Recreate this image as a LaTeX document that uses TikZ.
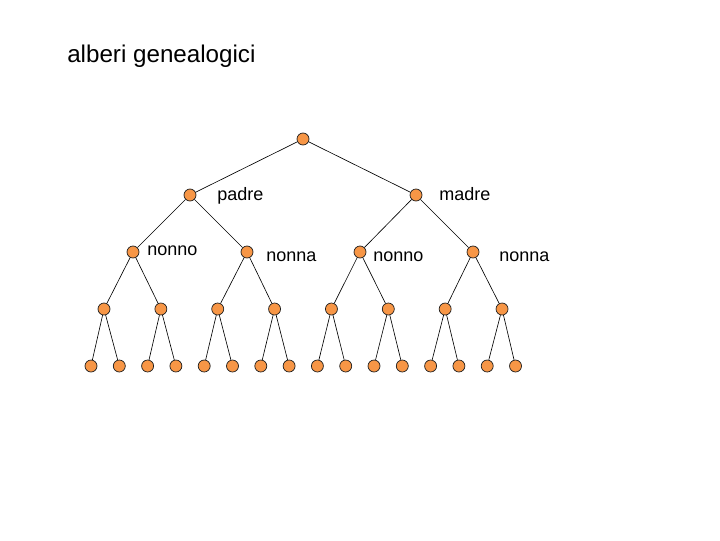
\documentclass[tikz,border=0pt]{standalone}
\usepackage{fontspec}
\setmainfont{Liberation Sans}
\usetikzlibrary{positioning}
\definecolor{nodeorange}{RGB}{247,150,70}
\definecolor{edgegray}{RGB}{30,30,30}

\begin{document}
\begin{tikzpicture}[
    x=0.025cm, y=-0.025cm,
    person/.style={
      circle, draw=edgegray, fill=nodeorange, line width=0.5pt,
      inner sep=0pt, minimum size=0.3cm
    },
    kin/.style={anchor=base west, inner sep=0pt, font=\fontsize{12.8}{15}\selectfont},
    link/.style={draw=black, line width=0.45pt}
  ]
    \useasboundingbox (0,0) rectangle (720,540);
    \node[anchor=base west, inner sep=0pt, font=\fontsize{17.2}{20}\selectfont] (title) at (67,62) {alberi genealogici};
    % root and parents
    \node[person] (root) at (303,139) {};
    \node[person] (padre) at (190,195) {};
    \node[person] (madre) at (416,195) {};
    % grandparents
    \node[person] (g1) at (133,252) {};
    \node[person] (g2) at (247,252) {};
    \node[person] (g3) at (360,252) {};
    \node[person] (g4) at (473,252) {};
    \foreach \i in {1,...,8}
      \node[person] (b\i) at ({104+56.86*(\i-1)},309) {};
    \foreach \i in {1,...,16}
      \node[person] (l\i) at ({91+28.3*(\i-1)},366) {};
    % labels
    \node[kin] (lpadre) at (217,200) {padre};
    \node[kin] (lmadre) at (439,200) {madre};
    \node[kin] (lg1) at (147,255) {nonno};
    \node[kin] (lg2) at (266,261) {nonna};
    \node[kin] (lg3) at (373,261) {nonno};
    \node[kin] (lg4) at (499,261) {nonna};
    % edges
    \draw[link] (root) -- (padre);
    \draw[link] (root) -- (madre);
    \draw[link] (padre) -- (g1);
    \draw[link] (padre) -- (g2);
    \draw[link] (madre) -- (g3);
    \draw[link] (madre) -- (g4);
    \foreach \i [evaluate=\i as \a using int(2*\i-1), evaluate=\i as \b using int(2*\i)] in {1,...,4} {
      \draw[link] (g\i) -- (b\a);
      \draw[link] (g\i) -- (b\b);
    }
    \foreach \i [evaluate=\i as \a using int(2*\i-1), evaluate=\i as \b using int(2*\i)] in {1,...,8} {
      \draw[link] (b\i) -- (l\a);
      \draw[link] (b\i) -- (l\b);
    }
  \end{tikzpicture}
\end{document}
